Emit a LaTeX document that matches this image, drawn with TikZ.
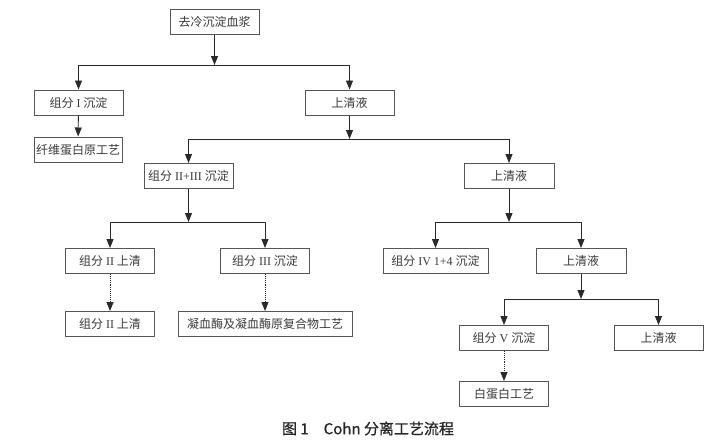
\documentclass[tikz,border=0pt]{standalone}
\usepackage{fontspec}
\setmainfont{Liberation Serif}
\newfontfamily\cjk{Noto Sans CJK SC}
\newfontfamily\capfont{Noto Sans CJK SC}[FakeBold=0.7]
\usetikzlibrary{arrows.meta}
\newcommand\zh[1]{{\cjk #1}}
\definecolor{linec}{HTML}{2A2A2A}
\definecolor{boxc}{HTML}{555555}
\definecolor{txtc}{HTML}{3A3A3A}
\begin{document}
\begin{tikzpicture}[x=1pt,y=-1pt,
  box/.style={draw=boxc, line width=1pt, minimum height=25pt, inner sep=0pt,
    text=txtc, font=\fontsize{12}{14}\selectfont},
  arr/.style={draw=linec, line width=0.9pt, -{Triangle[length=9pt,width=7pt]}},
  darr/.style={arr, densely dotted},
  ln/.style={draw=linec, line width=0.9pt}]
\fill[white] (0,0) rectangle (720,442);
\useasboundingbox (0,0) rectangle (720,442);

\node[box, minimum width=89pt] (a)  at (214.5,21.5) {\zh{去冷沉淀血浆}};
\node[box, minimum width=89pt] (b1) at (78.5,102.5) {\zh{组分} I \zh{沉淀}};
\node[box, minimum width=89pt] (b2) at (349.5,102.5) {\zh{上清液}};
\node[box, minimum width=88pt] (c1) at (78,149.5) {\zh{纤维蛋白原工艺}};
\node[box, minimum width=89pt] (d1) at (188.5,176) {\zh{组分} II+III \zh{沉淀}};
\node[box, minimum width=90pt] (d2) at (509,176) {\zh{上清液}};
\node[box, minimum width=89pt] (e1) at (110,261) {\zh{组分} II \zh{上清}};
\node[box, minimum width=89pt] (e2) at (265,261) {\zh{组分} III \zh{沉淀}};
\node[box, minimum width=105pt] (e3) at (435.5,261) {\zh{组分} IV 1+4 \zh{沉淀}};
\node[box, minimum width=90pt] (e4) at (581,261) {\zh{上清液}};
\node[box, minimum width=89pt] (f1) at (110,324) {\zh{组分} II \zh{上清}};
\node[box, minimum width=174pt] (f2) at (265,324) {\zh{凝血酶及凝血酶原复合物工艺}};
\node[box, minimum width=89pt] (g1) at (504,338) {\zh{组分} V \zh{沉淀}};
\node[box, minimum width=89pt] (g2) at (658.5,338) {\zh{上清液}};
\node[box, minimum width=89pt] (h1) at (504,394) {\zh{白蛋白工艺}};

\coordinate (ja) at (214.5,65);
\coordinate (jb) at (349.5,139);
\coordinate (jd1) at (188.5,222);
\coordinate (jd2) at (509,222);
\coordinate (je4) at (581,299);

\draw[arr] (a) -- (ja);
\draw[arr] (ja) -| (b1);
\draw[arr] (ja) -| (b2);
\draw[arr] (b1) -- (c1);

\draw[arr] (b2) -- (jb);
\draw[arr] (jb) -| (d1);
\draw[arr] (jb) -| (d2);

\draw[arr] (d1) -- (jd1);
\draw[arr] (jd1) -| (e1);
\draw[arr] (jd1) -| (e2);

\draw[arr] (d2) -- (jd2);
\draw[arr] (jd2) -| (e3);
\draw[arr] (jd2) -| (e4);

\draw[arr] (e4) -- (je4);
\draw[arr] (je4) -| (g1);
\draw[arr] (je4) -| (g2);

\draw[darr] (e1) -- (f1);
\draw[darr] (e2) -- (f2);
\draw[darr] (g1) -- (h1);

\node[font=\capfont\fontsize{15}{17}\selectfont, text=black!85] (cap) at (368,428.5) {图 1\hspace{1em}Cohn 分离工艺流程};
\end{tikzpicture}
\end{document}
